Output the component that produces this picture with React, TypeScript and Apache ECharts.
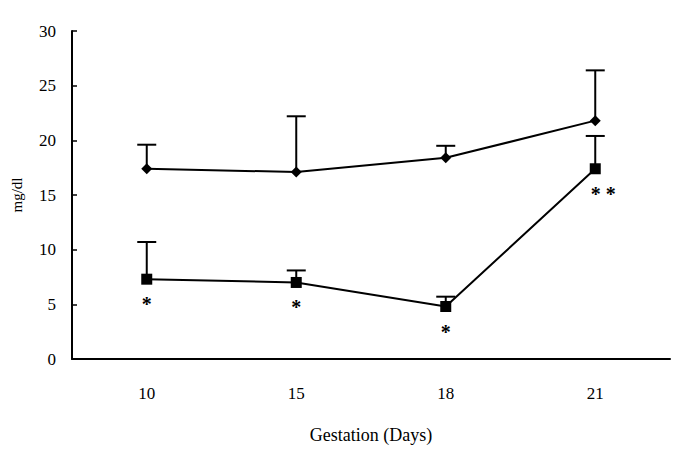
import React, { useEffect, useRef } from "react";
import * as echarts from "echarts";

const categories = ["10", "15", "18", "21"];
const yTicks = [0, 5, 10, 15, 20, 25, 30];
const upperMean = [17.4, 17.1, 18.4, 21.8];
const upperErrTop = [19.6, 22.2, 19.5, 26.4];
const lowerMean = [7.3, 7.0, 4.8, 17.4];
const lowerErrTop = [10.7, 8.1, 5.7, 20.4];
const sigLabels = ["*", "*", "*", "* *"];

const FONT = "'Liberation Serif', 'Times New Roman', serif";

export default function App() {
  const ref = useRef<HTMLDivElement>(null);

  useEffect(() => {
    if (!ref.current) return;
    const chart = echarts.init(ref.current, null, { renderer: "svg" });

    const errorRender = (params: any, api: any) => {
      const i = api.value(0);
      const p0 = api.coord([i, api.value(1)]);
      const p1 = api.coord([i, api.value(2)]);
      const hw = 9.5;
      return {
        type: "group",
        children: [
          {
            type: "line",
            shape: { x1: p0[0], y1: p0[1], x2: p1[0], y2: p1[1] },
            style: { stroke: "#000", lineWidth: 2 },
          },
          {
            type: "line",
            shape: { x1: p1[0] - hw, y1: p1[1], x2: p1[0] + hw, y2: p1[1] },
            style: { stroke: "#000", lineWidth: 2 },
          },
        ],
      };
    };

    const sigRender = (params: any, api: any) => {
      const i = api.value(0);
      const p = api.coord([i, api.value(1)]);
      const txt = sigLabels[i];
      const dx = txt.length > 1 ? 8 : 0;
      return {
        type: "text",
        x: p[0] + dx,
        y: p[1] + 25,
        style: {
          text: txt,
          fill: "#000",
          fontFamily: FONT,
          fontSize: 20,
          fontWeight: "bold",
          align: "center",
          verticalAlign: "middle",
        },
      };
    };

    chart.setOption({
      animation: false,
      backgroundColor: "#fff",
      grid: { left: 72, right: 15, top: 31, bottom: 97 },
      xAxis: {
        type: "category",
        data: categories,
        boundaryGap: true,
        name: "Gestation (Days)",
        nameLocation: "middle",
        nameGap: 67,
        nameTextStyle: { fontFamily: FONT, fontSize: 18, color: "#000" },
        axisLine: { lineStyle: { color: "#000", width: 2 } },
        axisTick: { show: false },
        axisLabel: { fontFamily: FONT, fontSize: 17, color: "#000", margin: 26 },
        splitLine: { show: false },
      },
      yAxis: {
        type: "value",
        min: yTicks[0],
        max: yTicks[yTicks.length - 1],
        interval: 5,
        name: "mg/dl",
        nameLocation: "middle",
        nameGap: 48,
        nameRotate: 90,
        nameTextStyle: { fontFamily: FONT, fontSize: 15, color: "#000" },
        axisLine: { show: true, lineStyle: { color: "#000", width: 2 } },
        axisTick: { show: true, inside: true, length: 5, lineStyle: { color: "#000", width: 1.5 } },
        axisLabel: { fontFamily: FONT, fontSize: 17, color: "#000", margin: 16 },
        splitLine: { show: false },
      },
      series: [
        {
          type: "custom",
          renderItem: errorRender,
          data: categories.map((c, i) => [i, upperMean[i], upperErrTop[i]]),
          itemStyle: { color: "#000" },
          z: 1,
          silent: true,
        },
        {
          type: "custom",
          renderItem: errorRender,
          data: categories.map((c, i) => [i, lowerMean[i], lowerErrTop[i]]),
          itemStyle: { color: "#000" },
          z: 1,
          silent: true,
        },
        {
          type: "line",
          data: upperMean,
          symbol: "diamond",
          symbolSize: 11,
          lineStyle: { color: "#000", width: 2 },
          itemStyle: { color: "#000" },
          z: 3,
        },
        {
          type: "line",
          data: lowerMean,
          symbol: "rect",
          symbolSize: 11,
          lineStyle: { color: "#000", width: 2 },
          itemStyle: { color: "#000" },
          z: 3,
        },
        {
          type: "custom",
          renderItem: sigRender,
          data: categories.map((c, i) => [i, lowerMean[i]]),
          itemStyle: { color: "#000" },
          z: 4,
          silent: true,
        },
      ],
    });

    return () => chart.dispose();
  }, []);

  return (
    <div
      ref={ref}
      style={{ position: "absolute", left: 0, top: 0, width: 685, height: 456, background: "#fff" }}
    />
  );
}
